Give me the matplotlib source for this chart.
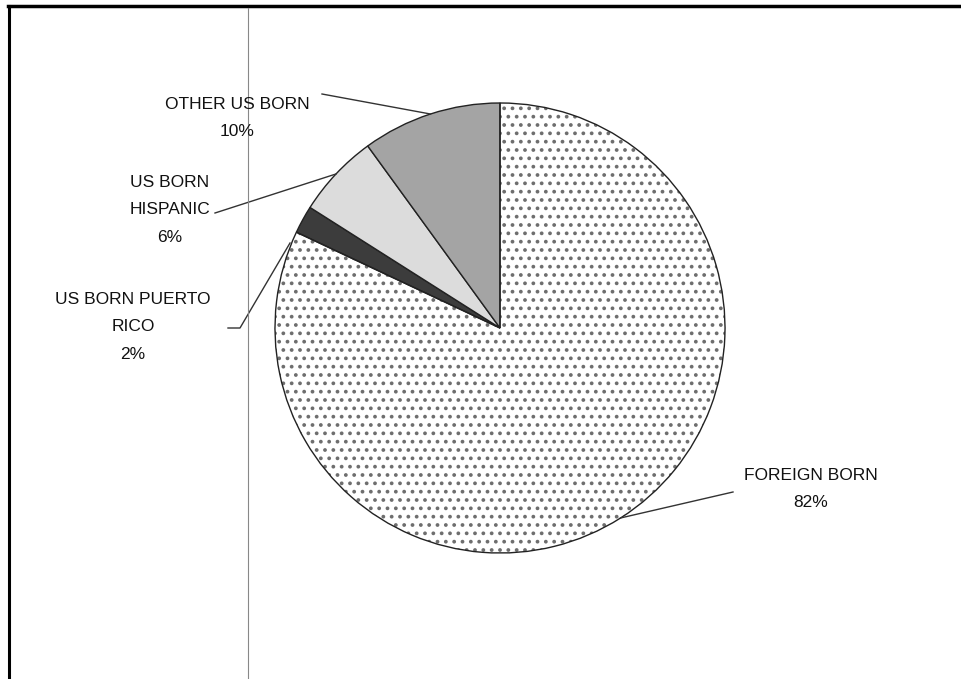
import numpy as np
import matplotlib
matplotlib.use('Agg')
import matplotlib.pyplot as plt
from matplotlib.patches import Wedge

plt.rcParams['font.family'] = ['Liberation Sans', 'DejaVu Sans']
plt.rcParams['hatch.linewidth'] = 1.5

labels = ['FOREIGN BORN', 'US BORN PUERTO\nRICO', 'US BORN\nHISPANIC', 'OTHER US BORN']
shares = [82, 2, 6, 10]
colors = ['white', '#3c3c3c', '#dcdcdc', '#a4a4a4']
hatches = ['..', None, None, None]

# label text positions (pixels, y from top) and leader elbow points
text_pos = [(811, 489), (133, 327), (170, 210), (237, 118)]
elbows = [(733, 492), (228, 328), (215, 213), (322, 94)]

W, H = 962, 679
fig = plt.figure(figsize=(W / 100, H / 100), dpi=100)
ax = fig.add_axes([0, 0, 1, 1])

cx, cy, r = 500, H - 328, 225
wedges, _ = ax.pie(shares, startangle=90, counterclock=False, colors=colors,
                   center=(cx, cy), radius=r, frame=True,
                   wedgeprops=dict(edgecolor='#222222', linewidth=1.0))
ax.set_xlim(0, W)
ax.set_ylim(0, H)
ax.set_aspect('equal')
ax.axis('off')
for w, h in zip(wedges, hatches):
    if h:
        w.set_hatch(h)
        w.set_edgecolor('#6e6e6e')
        w.set_linewidth(0)
        ax.add_patch(Wedge(w.center, w.r, w.theta1, w.theta2,
                           fill=False, edgecolor='#222222', lw=1.0))

# label text and leaders
for w, lab, pct, (tx, ty), (ex, ey) in zip(wedges, labels, shares, text_pos, elbows):
    ang = np.deg2rad((w.theta1 + w.theta2) / 2)
    px = cx + r * np.cos(ang)
    py = cy + r * np.sin(ang)
    if lab.startswith('US BORN PUERTO'):
        ax.plot([ex, ex + 12, 290], [H - ey, H - ey, H - 243], color='#333333', lw=1.0)
    else:
        ax.plot([ex, px], [H - ey, py], color='#333333', lw=1.0)
    ax.text(tx, H - ty, f'{lab}\n{pct}%', ha='center', va='center', fontsize=12.5,
            linespacing=2.05, color='#111111')

# scanned page frame
ax.plot([9, 9], [0, H - 6], color='black', lw=2.2)
ax.plot([8, W], [H - 6, H - 6], color='black', lw=2.5)
ax.plot([248, 248], [0, H - 8], color='#888888', lw=0.8)

fig.savefig('out.png', dpi=100, facecolor='white')
